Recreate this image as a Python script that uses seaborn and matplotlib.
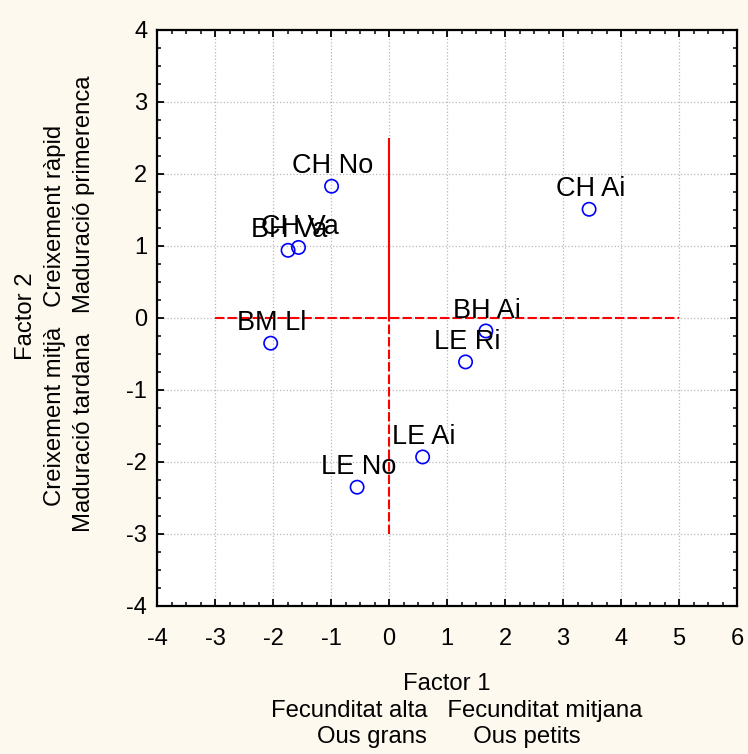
import matplotlib.pyplot as plt
import pandas as pd
import seaborn as sns

# factor scores
labels = ['CH No', 'CH Va', 'BH Va', 'CH Ai', 'BM Ll', 'BH Ai', 'LE Ri', 'LE Ai', 'LE No']
factor1 = [-0.99, -1.56, -1.74, 3.45, -2.04, 1.67, 1.32, 0.58, -0.55]
factor2 = [1.83, 0.98, 0.94, 1.51, -0.35, -0.18, -0.61, -1.93, -2.35]

xticks = [-4, -3, -2, -1, 0, 1, 2, 3, 4, 5, 6]
yticks = [-4, -3, -2, -1, 0, 1, 2, 3, 4]

# red reference lines
hline_y, hline_from, hline_to = 0, -3, 5
vline_x, vline_top, vline_bottom = 0, 2.5, -3

xlabel_lines = ['Factor 1', 'Fecunditat alta   Fecunditat mitjana', 'Ous grans       Ous petits']
ylabel_lines = ['Factor 2', 'Creixement mitjà   Creixement ràpid', 'Maduració tardana   Maduració primerenca']

df = pd.DataFrame({'label': labels, 'f1': factor1, 'f2': factor2})

sns.set_style('ticks')
plt.rcParams['font.family'] = ['Liberation Sans', 'DejaVu Sans']
plt.rcParams['text.color'] = 'black'
plt.rcParams['xtick.labelcolor'] = 'black'
plt.rcParams['ytick.labelcolor'] = 'black'

bg = '#fef9ee'
fig = plt.figure(figsize=(7.48, 7.54), dpi=100, facecolor=bg)
ax = fig.add_axes([157 / 748, 1 - 606 / 754, 580 / 748, 576 / 754])
ax.set_facecolor('white')

ax.grid(True, which='major', color='#b8b8b8', linestyle=':', linewidth=0.9)
ax.set_axisbelow(True)

ax.hlines(hline_y, hline_from, hline_to, color='red', linewidth=1.5, linestyles=(0, (4.5, 1.5)), zorder=2)
ax.vlines(vline_x, 0, vline_top, color='red', linewidth=1.5, zorder=2)
ax.vlines(vline_x, vline_bottom, 0, color='red', linewidth=1.5, linestyles=(0, (4.5, 1.5)), zorder=2)

sns.scatterplot(data=df, x='f1', y='f2', ax=ax, s=92, marker='o',
                facecolor='none', edgecolor='blue', linewidth=1.2, zorder=3)

for lab, x, y in zip(labels, factor1, factor2):
    ax.annotate(lab, (x, y), xytext=(1, 9.4), textcoords='offset points',
                ha='center', va='baseline', fontsize=19.5, color='black', zorder=4)

ax.set_xlim(-4, 6)
ax.set_ylim(-4, 4)
ax.set_xticks(xticks)
ax.set_yticks(yticks)
ax.set_xticklabels([str(t) for t in xticks])
ax.set_yticklabels([str(t) for t in yticks])
ax.xaxis.set_minor_locator(plt.MultipleLocator(0.25))
ax.yaxis.set_minor_locator(plt.MultipleLocator(0.25))
ax.tick_params(which='both', direction='in', top=True, right=True, color='black')
ax.tick_params(which='major', length=5, width=1.3)
ax.tick_params(which='minor', length=2.8, width=1.1)
ax.tick_params(axis='x', which='major', labelsize=17, pad=16)
ax.tick_params(axis='y', which='major', labelsize=17, pad=7)
ax.set_xlabel('')
ax.set_ylabel('')
for sp in ax.spines.values():
    sp.set_linewidth(1.6)
    sp.set_color('black')

# axis titles drawn as separate lines, positions in pixels
tr = fig.dpi_scale_trans
for txt, cx, base in zip(xlabel_lines, [446.5, 456.5, 448.5], [690, 717, 743]):
    fig.text(cx / 100, (754 - base) / 100, txt, transform=tr, ha='center', va='baseline', fontsize=17.2)
for txt, base, cy in zip(ylabel_lines, [32, 61, 90], [316.5, 315, 303.5]):
    fig.text(base / 100, (754 - cy) / 100, txt, transform=tr, ha='center', va='baseline',
             rotation=90, rotation_mode='anchor', fontsize=17.2)

fig.savefig('out.png', dpi=100, facecolor=bg)
